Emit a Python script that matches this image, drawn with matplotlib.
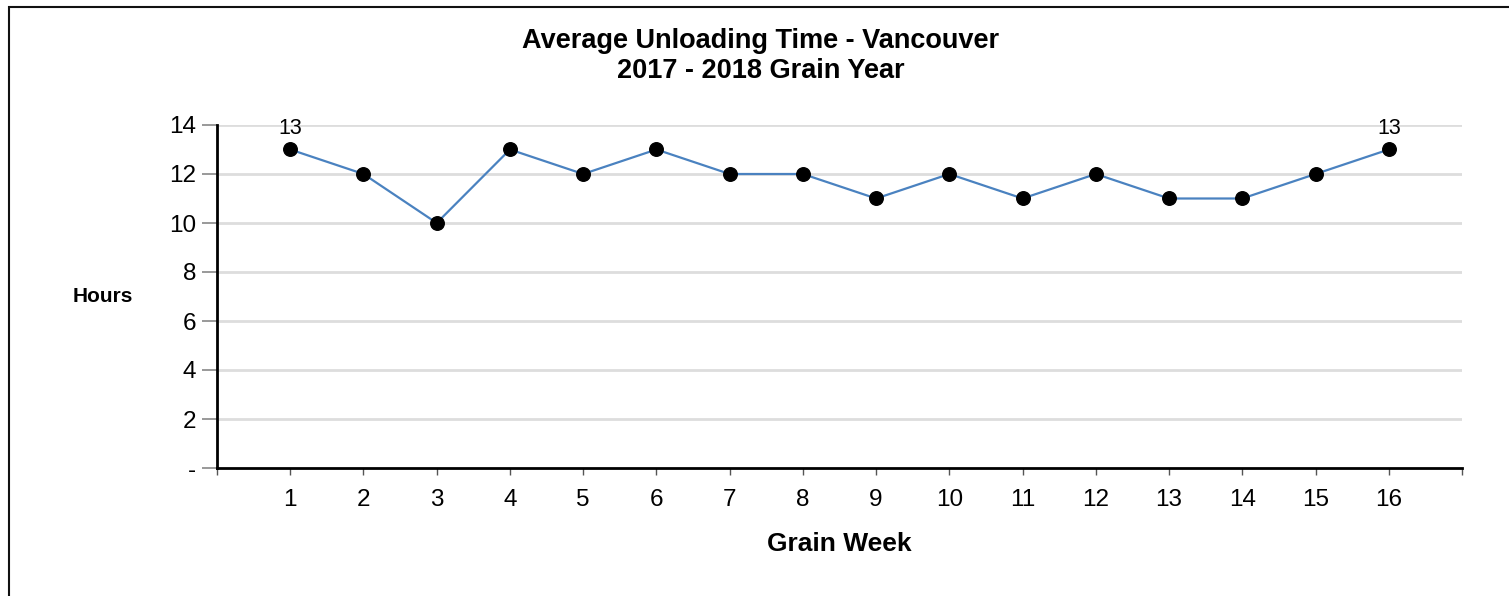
import matplotlib as mpl
import matplotlib.pyplot as plt
from matplotlib.patches import Rectangle

mpl.rcParams["font.family"] = ["Liberation Sans", "DejaVu Sans"]

# Data
weeks = list(range(1, 17))
hours = [13, 12, 10, 13, 12, 13, 12, 12, 11, 12, 11, 12, 11, 11, 12, 13]
y_ticks = [0, 2, 4, 6, 8, 10, 12, 14]
y_labels = ["-", "2", "4", "6", "8", "10", "12", "14"]
labelled = [0, 15]  # first and last point

W, H = 1509, 596
fig = plt.figure(figsize=(W / 100, H / 100), dpi=100)
fig.patch.set_facecolor("white")

# Outer frame
fig.patches.append(Rectangle((8.5 / W, -0.05), 1.2, (H - 6.5) / H + 0.05,
                             transform=fig.transFigure, fill=False,
                             edgecolor="#111111", linewidth=1.5))

ax = fig.add_axes([217 / W, 1 - 468 / H, (1462 - 217) / W, (468 - 125) / H])

ax.set_xlim(0, 17)
ax.set_ylim(0, 14)

for y in y_ticks[1:]:
    ax.axhline(y, color="#dddddd", linewidth=2, zorder=0)

ax.plot(weeks, hours, color="#4a82c0", linewidth=1.6, zorder=2)
ax.scatter(weeks, hours, s=95, color="black", zorder=3)

for i in labelled:
    ax.annotate(str(hours[i]), (weeks[i], hours[i]), xytext=(0, 7.5),
                textcoords="offset points", ha="center", va="bottom",
                fontsize=15.5, color="black")

for side in ("top", "right"):
    ax.spines[side].set_visible(False)
for side in ("left", "bottom"):
    ax.spines[side].set_linewidth(2)
    ax.spines[side].set_color("black")

ax.set_yticks(y_ticks)
ax.set_yticklabels(y_labels, fontsize=17.5)
ax.tick_params(axis="y", length=11, width=1.2, color="#888888", pad=4)

ax.set_xticks(range(0, 18))
ax.set_xticklabels([""] + [str(w) for w in weeks] + [""], fontsize=17.5)
ax.tick_params(axis="x", length=5, width=1, color="#555555", pad=10)

ax.set_xlabel("Grain Week", fontsize=19, fontweight="bold", labelpad=15)
fig.text(103 / W, 1 - 297 / H, "Hours", fontsize=15, fontweight="bold",
         ha="center", va="center")

fig.text(761 / W, 1 - 41 / H, "Average Unloading Time - Vancouver",
         fontsize=19.5, fontweight="bold", ha="center", va="center")
fig.text(761 / W, 1 - 71 / H, "2017 - 2018 Grain Year",
         fontsize=19.5, fontweight="bold", ha="center", va="center")

fig.savefig("out.png", dpi=100)
